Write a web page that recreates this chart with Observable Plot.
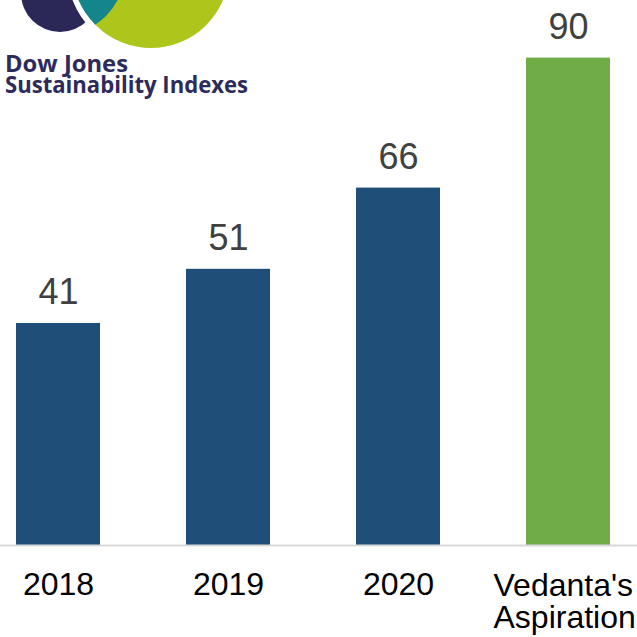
<!DOCTYPE html>
<html><head><meta charset="utf-8">
<script src="https://cdn.jsdelivr.net/npm/d3@7"></script>
<script src="https://cdn.jsdelivr.net/npm/@observablehq/plot@0.6"></script>
<style>
body{margin:0;background:#fff}
#wrap{position:relative;width:637px;height:637px;overflow:hidden;background:#fff}
#logo{position:absolute;left:0;top:0}
</style>
</head><body><div id="wrap"></div>
<script>
const categories = ["2018", "2019", "2020", "Vedanta's\nAspiration"];
const scores = [41, 51, 66, 90];
const barColors = ["#1f4e79", "#1f4e79", "#1f4e79", "#70ad47"];
const logoLines = ["Dow Jones", "Sustainability Indexes"];

const data = categories.map((c, i) => ({category: c, score: scores[i], color: barColors[i]}));
const font = "'Liberation Sans', Arial, Helvetica, sans-serif";

const chart = Plot.plot({
  width: 637, height: 637, margin: 0,
  style: {background: "transparent"},
  x: {domain: categories, range: [-70, 697], padding: 0.505, axis: null},
  y: {domain: [0, 90], range: [545, 57.6], axis: null},
  marks: [
    Plot.barY(data, {x: "category", y: "score", fill: "color"}),
    Plot.ruleY([0], {stroke: "#d9d9d9", strokeWidth: 2}),
    Plot.text(data, {x: "category", y: "score", text: d => String(d.score), lineAnchor: "bottom", dy: -19,
      fontSize: 36, fill: "#404040", fontFamily: font}),
    Plot.text(data.slice(0, 3), {x: "category", y: () => 0, text: "category", lineAnchor: "top", dy: 27,
      fontSize: 32, fill: "#000", fontFamily: font}),
    Plot.text(data.slice(3), {x: "category", y: () => 0, text: "category", lineAnchor: "top", dy: 27, dx: -75,
      textAnchor: "start", lineHeight: 1.02, fontSize: 32, fill: "#000", fontFamily: font})
  ]
});
const wrap = document.getElementById("wrap");
wrap.appendChild(chart);

// Logo (decorative)
const logo = d3.select(wrap).append("svg").attr("id", "logo").attr("width", 260).attr("height", 110);
logo.append("defs").append("clipPath").attr("id", "limeClip")
  .append("circle").attr("cx", 150).attr("cy", -31).attr("r", 78);
logo.append("circle").attr("cx", 60).attr("cy", -7).attr("r", 39).attr("fill", "#2b2858");
logo.append("circle").attr("cx", 151).attr("cy", -30).attr("r", 81).attr("fill", "#aec51c")
  .attr("stroke", "#fff").attr("stroke-width", 6);
logo.append("circle").attr("cx", 60).attr("cy", -30).attr("r", 65).attr("fill", "#13858b")
  .attr("clip-path", "url(#limeClip)");
const logoY = [72, 92.5], logoW = [123, 243];
logo.selectAll("text.l").data(logoLines).join("text")
  .attr("x", 5).attr("y", (d, i) => logoY[i])
  .attr("font-family", "'Open Sans', 'Noto Sans', sans-serif").attr("font-weight", 700)
  .attr("font-size", 22.5).attr("fill", "#2d2b5c")
  .attr("textLength", (d, i) => logoW[i]).attr("lengthAdjust", "spacingAndGlyphs")
  .text(d => d);
</script>
</body></html>
